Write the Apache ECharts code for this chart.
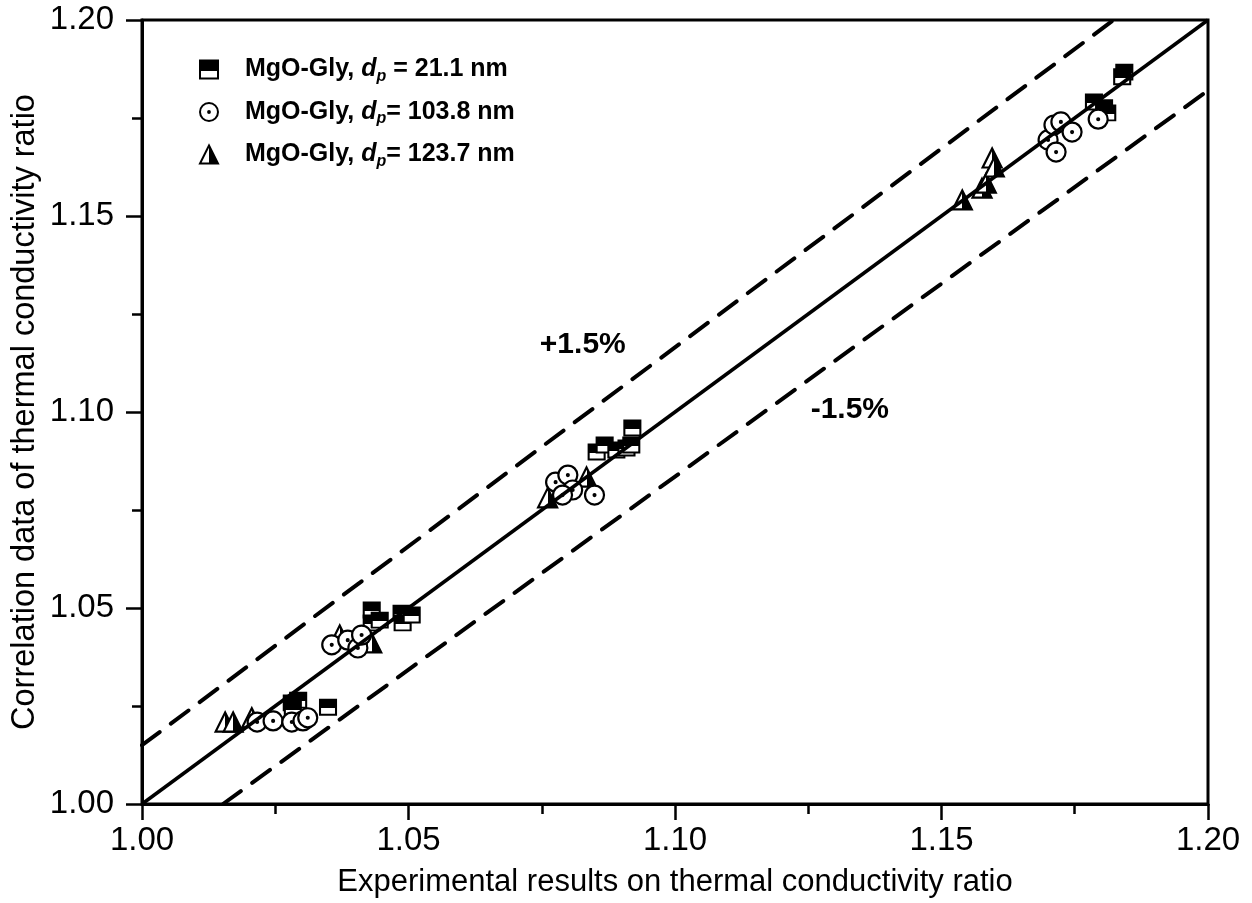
<!DOCTYPE html>
<html>
<head>
<meta charset="utf-8">
<script src="https://cdn.jsdelivr.net/npm/echarts@6/dist/echarts.min.js"></script>
<style>
html,body{margin:0;padding:0;background:#fff;}
#chart{width:1252px;height:903px;}
</style>
</head>
<body>
<div id="chart"></div>
<script>
// ---- data ----
const seriesNames = ['MgO-Gly, d_p = 21.1 nm', 'MgO-Gly, d_p= 103.8 nm', 'MgO-Gly, d_p= 123.7 nm'];
const squares21 = [
  [1.0281,1.0258],[1.0293,1.0265],[1.0283,1.0241],[1.0349,1.0247],
  [1.0431,1.0495],[1.0431,1.0462],[1.0446,1.0469],[1.0487,1.0487],[1.0489,1.0462],[1.0506,1.0482],
  [1.0853,1.0898],[1.0868,1.0916],[1.0890,1.0903],[1.0909,1.0908],[1.0920,1.0959],[1.0918,1.0916],
  [1.1786,1.1791],[1.1805,1.1776],[1.1811,1.1763],[1.1843,1.1867],[1.1839,1.1855]
];
const circles1038 = [
  [1.0216,1.0209],[1.0246,1.0212],[1.0281,1.0209],[1.0302,1.0212],[1.0311,1.0220],
  [1.0356,1.0406],[1.0386,1.0418],[1.0405,1.0398],[1.0412,1.0431],
  [1.0776,1.0821],[1.0799,1.0839],[1.0808,1.0801],[1.0789,1.0788],[1.0849,1.0788],
  [1.1700,1.1694],[1.1711,1.1732],[1.1724,1.1740],[1.1715,1.1663],[1.1745,1.1714],[1.1794,1.1747]
];
const triangles1237 = [
  [1.0156,1.0209],[1.0171,1.0209],[1.0206,1.0220],
  [1.0371,1.0431],[1.0431,1.0411],
  [1.0761,1.0781],[1.0834,1.0834],
  [1.1539,1.1541],[1.1576,1.1571],[1.1584,1.1584],[1.1595,1.1648],[1.1599,1.1625]
];
const perfectLine = [[1.0,1.0],[1.2,1.2]];
const plusLine = [[1.0,1.015],[1.1823,1.2]];
const minusLine = [[1.0152,1.0],[1.2,1.182]];
const bandLabels = [{text:'+1.5%', pos:[1.0827,1.1171]}, {text:'-1.5%', pos:[1.1328,1.1005]}];
const xTicks = {min:1.0, max:1.2, interval:0.05};
const yTicks = {min:1.0, max:1.2, interval:0.05};

const FONT = '"Liberation Sans", Arial, sans-serif';

const chart = echarts.init(document.getElementById('chart'));

const sqColor = new echarts.graphic.LinearGradient(0,0,0,1,[
  {offset:0,color:'#000'},{offset:0.55,color:'#000'},{offset:0.55,color:'#fff'},{offset:1,color:'#fff'}]);
const triColor = new echarts.graphic.LinearGradient(0,0,1,0,[
  {offset:0,color:'#fff'},{offset:0.5,color:'#fff'},{offset:0.5,color:'#000'},{offset:1,color:'#000'}]);
const circlePath = 'path://M10,0 A10,10 0 1,1 10,20 A10,10 0 1,1 10,0 Z M10,9 A1,1 0 1,1 10,11 A1,1 0 1,1 10,9 Z';

function legendFmt(name){
  const parts = name.split('d_p');
  return '{g|}' + parts[0] + '{i|d}{s|p}' + parts[1];
}

const axisCommon = {
  type:'value',
  axisLine:{show:true, onZero:false, lineStyle:{color:'#000', width:3}},
  axisTick:{show:true, inside:false, length:16, lineStyle:{color:'#000', width:2.5}},
  minorTick:{show:true, splitNumber:2, length:10, lineStyle:{color:'#000', width:2.5}},
  splitLine:{show:false},
  nameLocation:'middle',
  nameMoveOverlap:false
};

chart.setOption({
  animation:false,
  backgroundColor:'#fff',
  grid:{left:142, right:44, top:20, bottom:99, containLabel:false, outerBoundsMode:'none',
        show:true, borderColor:'#000', borderWidth:3},
  xAxis:Object.assign({}, axisCommon, {
    min:xTicks.min, max:xTicks.max, interval:xTicks.interval,
    name:'Experimental results on thermal conductivity ratio', nameGap:63,
    nameTextStyle:{color:'#000', fontFamily:FONT, fontSize:31},
    axisLabel:{color:'#000', fontFamily:FONT, fontSize:33, margin:20, formatter:v=>v.toFixed(2)}
  }),
  yAxis:Object.assign({}, axisCommon, {
    min:yTicks.min, max:yTicks.max, interval:yTicks.interval,
    name:'Correlation data of thermal conductivity ratio', nameGap:100,
    nameTextStyle:{color:'#000', fontFamily:FONT, fontSize:32.5},
    axisLabel:{color:'#000', fontFamily:FONT, fontSize:33, margin:28, formatter:v=>v.toFixed(2)}
  }),
  legend:{
    orient:'vertical', left:194, top:52, itemGap:15, itemWidth:18, itemHeight:18,
    data:seriesNames,
    formatter:legendFmt,
    textStyle:{color:'#000', fontFamily:FONT, fontSize:25, fontWeight:'bold',
      rich:{
        g:{width:22},
        i:{fontStyle:'italic', fontWeight:'bold', fontSize:25, fontFamily:FONT},
        s:{fontStyle:'italic', fontWeight:'bold', fontSize:16, fontFamily:FONT, padding:[14,0,0,0]}
      }}
  },
  series:[
    {name:seriesNames[0], type:'scatter', data:squares21, symbol:'rect', symbolSize:[16,15], z:3,
     itemStyle:{color:sqColor, borderColor:'#000', borderWidth:2, opacity:1}},
    {name:seriesNames[1], type:'scatter', data:circles1038, symbol:circlePath, symbolSize:19, z:3,
     itemStyle:{color:'#fff', borderColor:'#000', borderWidth:2.2, opacity:1}},
    {name:seriesNames[2], type:'scatter', data:triangles1237, symbol:'triangle', symbolSize:19, z:2,
     itemStyle:{color:triColor, borderColor:'#000', borderWidth:2.2, opacity:1}},
    {type:'line', data:perfectLine, showSymbol:false, z:5, silent:true,
     lineStyle:{color:'#000', width:3.5}},
    {type:'line', data:plusLine, showSymbol:false, z:5, silent:true,
     lineStyle:{color:'#000', width:4, type:[22,14], cap:'round'}},
    {type:'line', data:minusLine, showSymbol:false, z:5, silent:true,
     lineStyle:{color:'#000', width:4, type:[22,14], cap:'round'}},
    {type:'scatter', symbolSize:0, silent:true, z:6, itemStyle:{opacity:1},
     data:bandLabels.map(b=>({value:b.pos, label:{show:true, formatter:b.text, position:'inside',
       color:'#000', opacity:1, fontFamily:FONT, fontSize:30, fontWeight:'bold'}}))}
  ]
});
</script>
</body>
</html>
